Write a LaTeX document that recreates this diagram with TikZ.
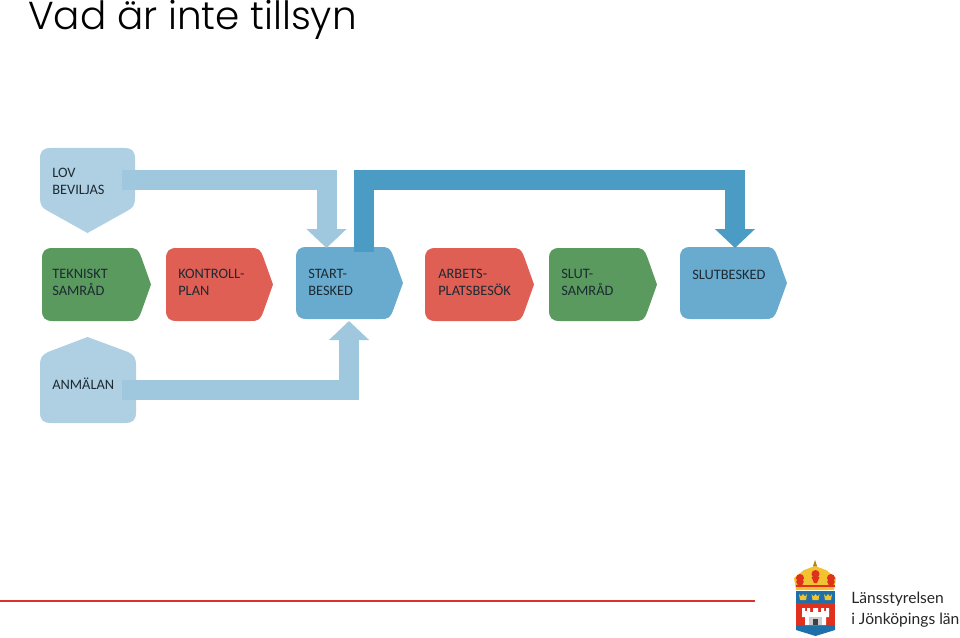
\documentclass[tikz,border=0pt]{standalone}
\usepackage{fontspec}
\setmainfont{Liberation Sans}
\newfontfamily\titlefont{Poppins Light}
\newfontfamily\boxfont{Carlito}
\newfontfamily\logofont{Lato}
\usetikzlibrary{arrows.meta}
\definecolor{lightbox}{HTML}{AFD0E3}
\definecolor{lightarrow}{HTML}{9FC7DE}
\definecolor{bluebox}{HTML}{68ABCF}
\definecolor{darkarrow}{HTML}{4A9CC5}
\definecolor{greenbox}{HTML}{5A9A5E}
\definecolor{redbox}{HTML}{E05F54}
\definecolor{boxtext}{HTML}{1C2A33}
\definecolor{rule}{HTML}{D9332B}
\definecolor{crownred}{HTML}{E0301E}
\definecolor{crowngold}{HTML}{F2C230}
\definecolor{shieldblue}{HTML}{1F6FA8}
\definecolor{castle}{HTML}{C9CDD0}
\tikzset{
  label/.style={font=\boxfont\fontsize{10.8}{12.9}\selectfont,text=boxtext,anchor=north west,align=left,inner sep=0pt},
  band/.style={line width=15pt,-{Triangle[width=29.25pt,length=14.25pt]}},
  lightband/.style={band,draw=lightarrow},
  darkband/.style={band,draw=darkarrow}
}
% #1 colour, #2 left, #3 top, #4 shoulder x, #5 tip x, #6 bottom
\newcommand{\rightbox}[6]{\fill[#1] (#2+11,#3) -- (#4-10,#3) .. controls (#4-1,#3) and (#4,#3+1) .. (#4+3.4,#3+9.5) -- (#5,{(#3+#6)/2}) -- (#4+3.4,#6-9.5) .. controls (#4,#6-1) and (#4-1,#6) .. (#4-10,#6) -- (#2+11,#6) .. controls (#2+3,#6) and (#2,#6-3) .. (#2,#6-11) -- (#2,#3+11) .. controls (#2,#3+3) and (#2+3,#3) .. cycle;}
\begin{document}
\begin{tikzpicture}[x=0.75pt,y=-0.75pt]
\useasboundingbox (0,0) rectangle (960,638);
\fill[white] (0,0) rectangle (960,638);
\node[anchor=base west,inner sep=0pt,font=\titlefont\fontsize{29.2}{32}\selectfont,text=black] (title) at (28,30) {Vad är inte tillsyn};

% boxes
\fill[lightbox] (51,148) -- (124,148) .. controls (132,148) and (135,151) .. (135,159) -- (135,198) .. controls (135,205) and (133,208) .. (127,211) -- (87.5,233) -- (48,211) .. controls (42,208) and (40,205) .. (40,198) -- (40,159) .. controls (40,151) and (43,148) .. cycle;
\fill[lightbox] (51,423) -- (125,423) .. controls (133,423) and (136,420) .. (136,412) -- (136,365) .. controls (136,358) and (134,355) .. (128,352) -- (87.5,337) -- (48,352) .. controls (42,355) and (40,358) .. (40,365) -- (40,412) .. controls (40,420) and (43,423) .. cycle;
\rightbox{greenbox}{42}{248}{138}{151}{321}
\rightbox{redbox}{166}{248}{260}{273}{321}
\rightbox{bluebox}{296}{247}{390}{403}{319}
\rightbox{redbox}{425}{248}{521}{534}{321}
\rightbox{greenbox}{549}{248}{644}{657}{321}
\rightbox{bluebox}{680}{247}{774}{787}{319}

% labels
\node[label] (lov) at (52,167.5) {LOV\\BEVILJAS};
\node[label] (anm) at (52,377.5) {ANMÄLAN};
\node[label] (tek) at (52,269) {TEKNISKT\\SAMRÅD};
\node[label] (kon) at (178,269) {KONTROLL-\\PLAN};
\node[label] (sta) at (308,269) {START-\\BESKED};
\node[label] (arb) at (438,269) {ARBETS-\\PLATSBESÖK};
\node[label] (slu) at (561,269) {SLUT-\\SAMRÅD};
\node[label] (sbe) at (692,269.5) {SLUTBESKED};

% connectors
\coordinate (lovout) at (122,180);
\coordinate (startin) at (326.5,248);
\coordinate (anmout) at (122,390);
\coordinate (startunder) at (349,321);
\coordinate (startout) at (363.5,252);
\coordinate (slutin) at (735,248);
\coordinate (topbend) at (363.5,180);
\draw[lightband] (lovout) -| (startin);
\draw[lightband] (anmout) -| (startunder);
\draw[darkband] (startout) -- (topbend) -| (slutin);

% rule
\draw[rule,line width=1.6pt] (0,601) -- (755,601);

% logo
\fill[crowngold!70!black] (815,560) -- (817,566) -- (815,569) -- (813,566) -- cycle;
\fill[crowngold] (796,590) -- (794,578) -- (804,570) -- (815,566) -- (826,570) -- (836,578) -- (834,590) -- cycle;
\foreach \cx/\cy in {800/578,815.5/574,831/578}{
  \fill[crownred] (\cx,\cy) circle[radius=4];
  \fill[crownred] (\cx-4,\cy+3) -- (\cx+4,\cy+3) -- (\cx+1.5,\cy+9) -- (\cx-1.5,\cy+9) -- cycle;
}
\fill[crownred] (796,585) rectangle (835,587);
\fill[shieldblue] (796,591) rectangle (835,603);
\foreach \cx in {803,815.5,828}{
  \fill[crowngold] (\cx-4,594) -- (\cx-2,596.5) -- (\cx,594) -- (\cx+2,596.5) -- (\cx+4,594) -- (\cx+3,600) -- (\cx-3,600) -- cycle;
}
\fill[crownred] (796,603) rectangle (835,627);
\fill[shieldblue] (796,625) -- (835,625) -- (835,630) -- (815.5,636) -- (796,630) -- cycle;
\fill[white] (802,608) -- (805,608) -- (805,611) -- (807,611) -- (807,608) -- (810,608) -- (810,612) -- (813,612) -- (813,608) -- (818,608) -- (818,612) -- (821,612) -- (821,608) -- (824,608) -- (824,611) -- (826,611) -- (826,608) -- (829,608) -- (829,617) -- (826,617) -- (826,625) -- (805,625) -- (805,617) -- (802,617) -- cycle;
\fill[castle] (809,617) rectangle (822,625);
\fill[black!75] (813,619) rectangle (818,625);

\node[anchor=base west,inner sep=0pt,font=\logofont\fontsize{11.7}{14}\selectfont,text=black!85] (l1) at (851,603.5) {Länsstyrelsen};
\node[anchor=base west,inner sep=0pt,font=\logofont\fontsize{11.7}{14}\selectfont,text=black!85] (l2) at (851,624.5) {i Jönköpings län};
\end{tikzpicture}
\end{document}
